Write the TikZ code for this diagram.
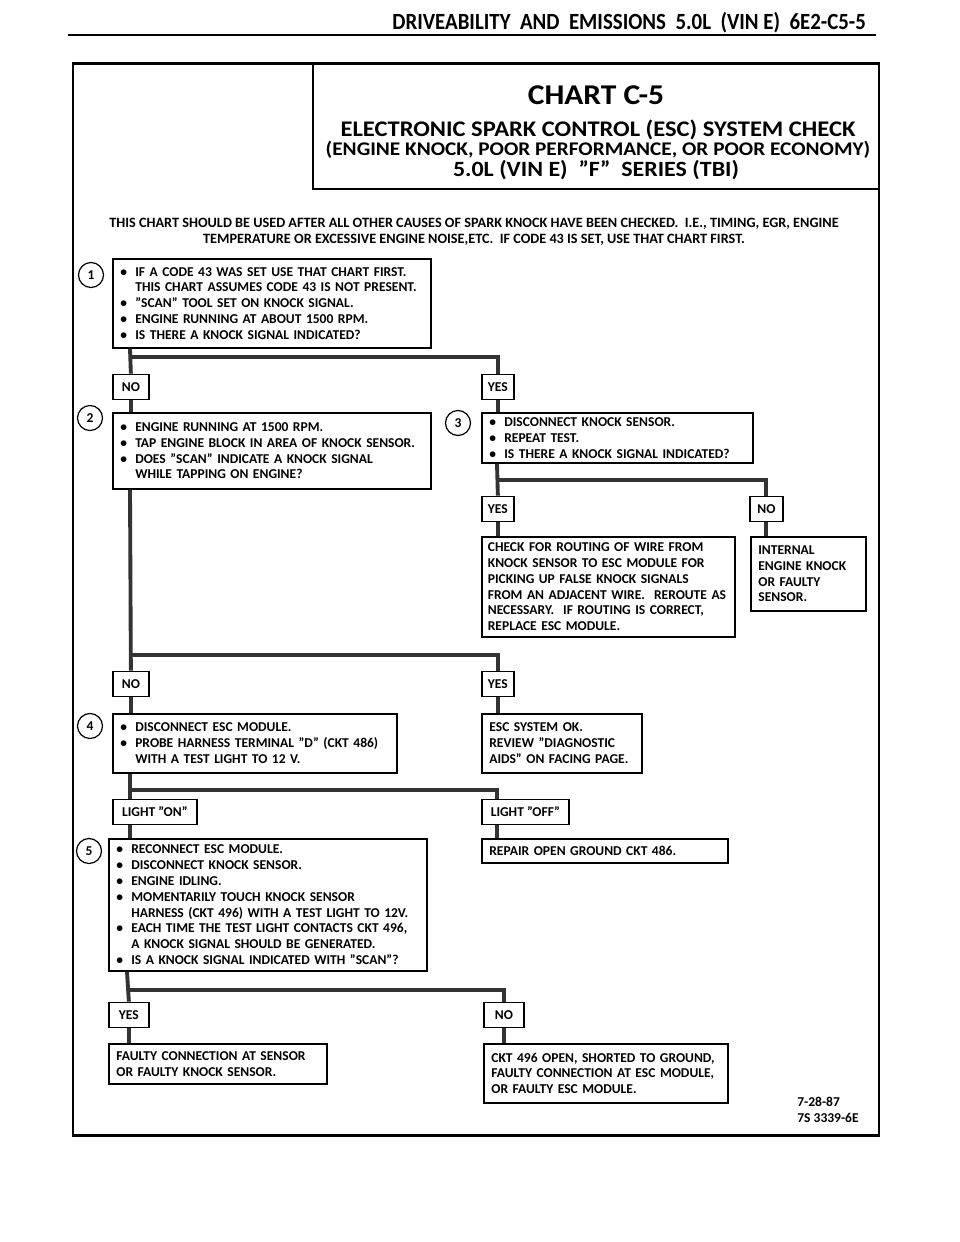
\documentclass[tikz,border=0pt]{standalone}
\usepackage{fontspec}
\setmainfont{Carlito}
\newfontfamily\condfont{Carlito}[FakeStretch=0.9, Ligatures=TeX]
\newfontfamily\ttlfont{Carlito}[FakeStretch=1.1, Ligatures=TeX]
\usetikzlibrary{positioning}
\newcommand{\chartfont}{\fontsize{7.7}{9}\selectfont\bfseries}
\newcommand{\bul}{\makebox[8.5pt][l]{\textbullet}}
\newcommand{\ind}{\hspace*{8.5pt}}
\tikzset{%
	chartbox/.style = {draw, line width=1pt, anchor=north west, align=left, inner xsep=0.15cm, inner ysep=0pt, font=\chartfont},
	answer/.style   = {draw, line width=1pt, anchor=west, minimum height=0.5cm, inner sep=0pt, font=\chartfont}, % yes/no
	stepno/.style   = {draw, circle, line width=0.7pt, minimum size=0.5cm, inner sep=0pt, font=\chartfont}, % step number
	trunk/.style    = {line width=2.2pt, black!80},
	title/.style    = {inner sep=0pt, font=\ttlfont\bfseries},
}
\begin{document}
\begin{tikzpicture}[x=0.02cm,y=-0.02cm]
		\useasboundingbox (0,0) rectangle (960,1242);
		% page header and frame
		\node[anchor=base east, font=\condfont\bfseries\fontsize{13.2}{14}\selectfont] (hdr) at (872,29) {DRIVEABILITY \ AND \ EMISSIONS \ 5.0L \ (VIN E) \ 6E2-C5-5};
		\draw[line width=1.3pt] (68,35) -- (876,35);
		\draw[line width=1.7pt] (73,63) rectangle (879,1135);
		\draw[line width=1pt] (313,63) |- (879,189);
		
		\node[title, font=\ttlfont\bfseries\fontsize{16.3}{18}\selectfont] (ttl) at (596,95) {CHART C-5};
		\node[title, font=\ttlfont\bfseries\fontsize{12.7}{14}\selectfont] (ttla) at (598,130) {ELECTRONIC SPARK CONTROL (ESC) SYSTEM CHECK};
		\node[title, font=\ttlfont\bfseries\fontsize{11}{12}\selectfont] (ttlb) at (598,150) {(ENGINE KNOCK, POOR PERFORMANCE, OR POOR ECONOMY)};
		\node[title, font=\ttlfont\bfseries\fontsize{12.4}{14}\selectfont] (ttlc) at (596,170) {5.0L (VIN E) \ ”F” \ SERIES (TBI)};
		\node[align=center, font=\bfseries\fontsize{8.1}{9.4}\selectfont] (intro) at (474,232) {THIS CHART SHOULD BE USED AFTER ALL OTHER CAUSES OF SPARK KNOCK HAVE BEEN CHECKED. \ I.E., TIMING, EGR, ENGINE\\TEMPERATURE OR EXCESSIVE ENGINE NOISE,ETC. \ IF CODE 43 IS SET, USE THAT CHART FIRST.};
		
		% steps
		\node[chartbox, text width=6.06cm, minimum height=1.78cm] (b1) at (112,258) {\bul IF A CODE 43 WAS SET USE THAT CHART FIRST.\\\ind THIS CHART ASSUMES CODE 43 IS NOT PRESENT.\\\bul ”SCAN” TOOL SET ON KNOCK SIGNAL.\\\bul ENGINE RUNNING AT ABOUT 1500 RPM.\\\bul IS THERE A KNOCK SIGNAL INDICATED?};
		\node[chartbox, text width=6.06cm, minimum height=1.52cm] (b2) at (112,412) {\bul ENGINE RUNNING AT 1500 RPM.\\\bul TAP ENGINE BLOCK IN AREA OF KNOCK SENSOR.\\\bul DOES ”SCAN” INDICATE A KNOCK SIGNAL\\\ind WHILE TAPPING ON ENGINE?};
		\node[chartbox, text width=5.12cm, minimum height=1.0cm] (b3) at (481,412) {\bul DISCONNECT KNOCK SENSOR.\\\bul REPEAT TEST.\\\bul IS THERE A KNOCK SIGNAL INDICATED?};
		\node[chartbox, inner xsep=0.12cm, text width=4.82cm, minimum height=2.0cm] (chk) at (481,536) {CHECK FOR ROUTING OF WIRE FROM\\KNOCK SENSOR TO ESC MODULE FOR\\PICKING UP FALSE KNOCK SIGNALS\\FROM AN ADJACENT WIRE. \ REROUTE AS\\NECESSARY. \ IF ROUTING IS CORRECT,\\REPLACE ESC MODULE.};
		\node[chartbox, text width=2.0cm, minimum height=1.48cm] (intl) at (750,536) {INTERNAL\\ENGINE KNOCK\\OR FAULTY\\SENSOR.};
		\node[chartbox, text width=5.38cm, minimum height=1.18cm] (b4) at (112,713) {\bul DISCONNECT ESC MODULE.\\\bul PROBE HARNESS TERMINAL ”D” (CKT 486)\\\ind WITH A TEST LIGHT TO 12 V.};
		\node[chartbox, text width=2.9cm, minimum height=1.18cm] (escok) at (481,713) {ESC SYSTEM OK.\\REVIEW ”DIAGNOSTIC\\AIDS” ON FACING PAGE.};
		\node[chartbox, text width=6.06cm, minimum height=2.64cm] (b5) at (108,838) {\bul RECONNECT ESC MODULE.\\\bul DISCONNECT KNOCK SENSOR.\\\bul ENGINE IDLING.\\\bul MOMENTARILY TOUCH KNOCK SENSOR\\\ind HARNESS (CKT 496) WITH A TEST LIGHT TO 12V.\\\bul EACH TIME THE TEST LIGHT CONTACTS CKT 496,\\\ind A KNOCK SIGNAL SHOULD BE GENERATED.\\\bul IS A KNOCK SIGNAL INDICATED WITH ”SCAN”?};
		\node[chartbox, text width=4.62cm, minimum height=0.48cm] (rep) at (481,838) {REPAIR OPEN GROUND CKT 486.};
		\node[chartbox, text width=4.06cm, minimum height=0.8cm] (flt) at (108,1043) {FAULTY CONNECTION AT SENSOR\\OR FAULTY KNOCK SENSOR.};
		\node[chartbox, text width=4.58cm, minimum height=1.18cm] (ckt) at (483,1043) {CKT 496 OPEN, SHORTED TO GROUND,\\FAULTY CONNECTION AT ESC MODULE,\\OR FAULTY ESC MODULE.};
		
		\node[stepno] (n1) at (91,275) {1};
		\node[stepno] (n2) at (90,418) {2};
		\node[stepno] (n3) at (458,423) {3};
		\node[stepno] (n4) at (90,726) {4};
		\node[stepno] (n5) at (89,851) {5};
		
		% answers
		\node[answer, minimum width=0.72cm] (no1) at (112,387) {NO};
		\node[answer, minimum width=0.64cm] (yes1) at (481,387) {YES};
		\node[answer, minimum width=0.64cm] (yes3) at (481,509) {YES};
		\node[answer, minimum width=0.66cm] (no3) at (749,509) {NO};
		\node[answer, minimum width=0.72cm] (no2) at (112,684) {NO};
		\node[answer, minimum width=0.64cm] (yes2) at (481,684) {YES};
		\node[answer, minimum width=1.68cm] (on4) at (112,812) {LIGHT ”ON”};
		\node[answer, minimum width=1.74cm] (off4) at (481,812) {LIGHT ”OFF”};
		\node[answer, minimum width=0.8cm] (yes5) at (108,1015) {YES};
		\node[answer, minimum width=0.8cm] (no5) at (483,1015) {NO};
		
		\node[anchor=north west, align=left, font=\chartfont, inner sep=0pt] (date) at (797,1097) {7-28-87\\7S 3339-6E};
		
		% flow lines
		\coordinate (j1) at (130,357);
		\coordinate (j3) at (497,480);
		\coordinate (j2) at (130,655);
		\coordinate (j4) at (130,790);
		\coordinate (j4r) at (497,790);
		\coordinate (j5) at (127,990);
		\coordinate (j5r) at (503,990);
		\draw[trunk] (b1.south -| j1) -- (no1.north);
		\draw[trunk] (j1) -| (yes1.north);
		\draw[trunk] (no1.south) -- (no1.south |- b2.north);
		\draw[trunk] (yes1.south) -- (yes1.south |- b3.north);
		\draw[trunk] (b3.south -| j3) -- (yes3.north);
		\draw[trunk] (j3) -| (no3.north);
		\draw[trunk] (yes3.south) -- (yes3.south |- chk.north);
		\draw[trunk] (no3.south) -- (no3.south |- intl.north);
		\draw[trunk] (b2.south -| j2) -- (no2.north);
		\draw[trunk] (j2) -| (yes2.north);
		\draw[trunk] (no2.south) -- (no2.south |- b4.north);
		\draw[trunk] (yes2.south) -- (yes2.south |- escok.north);
		\draw[trunk] (b4.south -| j4) -- (j4 |- on4.north);
		\draw[trunk] (j4) -- (j4r) -- (j4r |- off4.north);
		\draw[trunk] (j4 |- on4.south) -- (j4 |- b5.north);
		\draw[trunk] (j4r |- off4.south) -- (j4r |- rep.north);
		\draw[trunk] (b5.south -| j5) -- (yes5.north);
		\draw[trunk] (j5) -| (no5.north);
		\draw[trunk] (yes5.south) -- (yes5.south |- flt.north);
		\draw[trunk] (no5.south) -- (no5.south |- ckt.north);
\end{tikzpicture}
\end{document}
